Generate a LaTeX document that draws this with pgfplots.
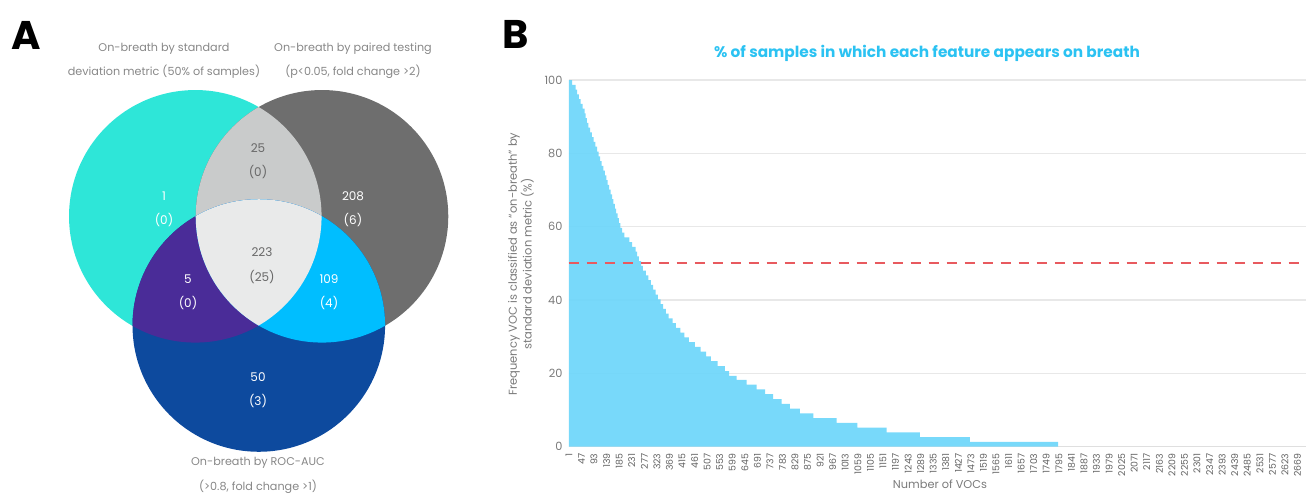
\documentclass[border=0pt]{standalone}
\usepackage{fontspec}
\setmainfont{Poppins}
\usepackage{pgfplots}
\usepackage{pgfplotstable}
\pgfplotsset{compat=1.18}
\definecolor{cA}{HTML}{2EE6D8}
\definecolor{cB}{HTML}{6E6E6E}
\definecolor{cC}{HTML}{0D4A9E}
\definecolor{cAB}{HTML}{C9CBCB}
\definecolor{cAC}{HTML}{4A2C98}
\definecolor{cBC}{HTML}{00BEFF}
\definecolor{cABC}{HTML}{E9EAEA}
\definecolor{lab}{HTML}{7A7A7A}
\definecolor{barc}{HTML}{6DD6FA}
\definecolor{ttl}{HTML}{2BC2F2}
\definecolor{refred}{RGB}{232,90,95}

\pgfplotstableread{
v y
1 100
13 98.7
25 97.4
31 96.1
37 94.8
44 93.5
51 92.2
58 90.9
62 89.6
67 88.3
72 87.0
79 85.7
85 84.4
91 83.1
98 81.8
104 80.5
110 79.2
115 77.9
121 76.6
127 75.3
133 74.0
138 72.7
143 71.4
148 70.1
154 68.8
159 67.5
164 66.2
169 64.9
174 63.6
179 62.3
184 61.0
189 59.7
196 58.4
204 57.1
222 55.8
232 54.5
245 53.2
251 51.9
257 50.6
265 49.3
272 48.0
283 46.7
292 45.4
301 44.1
309 42.8
318 41.5
327 40.2
337 38.9
346 37.6
356 36.3
366 35.0
381 33.7
393 32.4
409 31.1
424 29.8
440 28.5
462 27.2
483 25.9
503 24.6
521 23.3
545 22.0
572 20.6
588 19.3
615 18.2
652 16.9
688 15.6
719 14.3
749 13.0
780 11.7
810 10.4
847 9.1
896 7.8
981 6.5
1057 5.2
1164 3.9
1286 2.6
1469 1.3
1792 0
}\freq

\pgfplotstableread{
x y
0 50
2700 50
}\thresh

\begin{document}
\begin{tikzpicture}[x=0.75pt,y=-0.75pt]
\path[use as bounding box] (0,0) rectangle (1306,493);

% ---------- Panel A : Venn diagram ----------
\begin{axis}[at={(0pt,-369.75pt)}, anchor=south west, scale only axis,
  width=360pt, height=369.75pt, xmin=0, xmax=480, ymin=0, ymax=493,
  hide axis, clip=false]
  \def\circA{(axis cs:195.3,276.7) circle[radius=94.7pt]}
  \def\circB{(axis cs:322,276.7) circle[radius=94.7pt]}
  \def\circC{(axis cs:258.8,167.5) circle[radius=94.7pt]}
  \fill[cA] \circA;
  \fill[cB] \circB;
  \fill[cC] \circC;
  \begin{scope}\clip \circA; \fill[cAB] \circB; \end{scope}
  \begin{scope}\clip \circA; \fill[cAC] \circC; \end{scope}
  \begin{scope}\clip \circB; \fill[cBC] \circC; \end{scope}
  \begin{scope}\clip \circA; \clip \circB; \fill[cABC] \circC; \end{scope}
  \begin{scope}[every node/.style={font=\fontsize{9}{9}\selectfont, inner sep=0pt}]
  \node[text=lab!85!black] at (axis cs:258,345) {25};
  \node[text=lab!85!black] at (axis cs:258,321) {(0)};
  \node[text=white] at (axis cs:164,297) {1};
  \node[text=white] at (axis cs:164,273) {(0)};
  \node[text=white] at (axis cs:353,297) {208};
  \node[text=white] at (axis cs:353,273) {(6)};
  \node[text=lab!85!black] at (axis cs:262,241) {223};
  \node[text=lab!85!black] at (axis cs:262,216) {(25)};
  \node[text=white] at (axis cs:188,214) {5};
  \node[text=white] at (axis cs:188,190) {(0)};
  \node[text=white] at (axis cs:329,214) {109};
  \node[text=white] at (axis cs:329,190) {(4)};
  \node[text=white] at (axis cs:258,116) {50};
  \node[text=white] at (axis cs:258,92) {(3)};
  \end{scope}
  \begin{scope}[every node/.style={font=\fontsize{8.4}{9}\selectfont, text=lab!90, inner sep=0pt}]
  \node at (axis cs:164,444) {On-breath by standard};
  \node at (axis cs:164,421) {deviation metric (50\% of samples)};
  \node at (axis cs:353,444) {On-breath by paired testing};
  \node at (axis cs:353,421) {(p<0.05, fold change >2)};
  \node at (axis cs:258,30) {On-breath by ROC-AUC};
  \node at (axis cs:258,6) {(>0.8, fold change >1)};
  \end{scope}
\end{axis}

% ---------- Panel B : bar chart ----------
\begin{axis}[at={(426.5pt,-335.0pt)}, anchor=south west, scale only axis,
  width=553pt, height=275pt,
  xmin=0, xmax=2700, ymin=0, ymax=100,
  axis x line*=bottom, axis y line*=left,
  x axis line style={draw=gray!25, line width=0.8pt, -},
  y axis line style={draw=none},
  ytick={0,20,...,100}, ymajorgrids,
  grid style={gray!18, line width=0.9pt},
  xtick={1,47,...,2669},
  major tick length=0pt,
  /pgf/number format/assume math mode=true,
  /pgf/number format/1000 sep={},
  yticklabel style={font=\fontsize{8.5}{8}\selectfont, text=lab, anchor=east, inner sep=0pt, xshift=-4.5pt},
  xticklabel style={font=\fontsize{7}{7}\selectfont, text=lab!80!black, rotate=90, anchor=east, inner sep=0pt},
  xticklabel shift=5pt,
  clip=false]
  \addplot[fill=barc, fill opacity=0.92, draw=none, const plot mark left] table[x=v,y=y]{\freq} \closedcycle;
  \addplot[color=refred, solid, line width=1.3pt, dash pattern=on 7.5pt off 6pt, mark=none, sharp plot] table[x=x,y=y]{\thresh};
\end{axis}

% ---------- texts ----------
\node[anchor=base west, inner sep=0pt, font=\fontsize{30}{30}\bfseries\selectfont] at (11,49) {A};
\node[anchor=base west, inner sep=0pt, font=\fontsize{30}{30}\bfseries\selectfont] at (502,48) {B};
\node[font=\fontsize{11.5}{11.5}\bfseries\selectfont, text=ttl] at (927,53) {\% of samples in which each feature appears on breath};
\node[font=\fontsize{8.5}{8.5}\selectfont, text=lab, inner sep=0pt] at (940,484) {Number of VOCs};
\node[font=\fontsize{8.6}{11}\selectfont, text=lab, rotate=90, align=center, inner sep=0pt] at (521,264) {Frequency VOC is classified as ``on-breath'' by\\standard deviation metric (\%)};
\end{tikzpicture}
\end{document}
